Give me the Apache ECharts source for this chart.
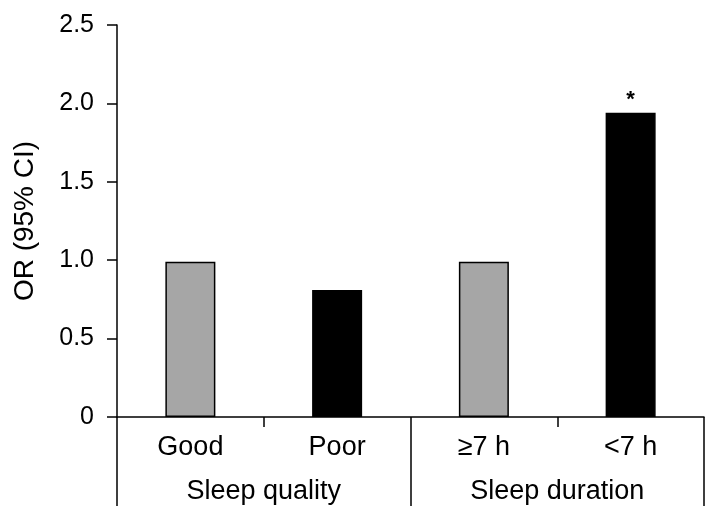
<!DOCTYPE html>
<html>
<head>
<meta charset="utf-8">
<script src="https://cdn.jsdelivr.net/npm/echarts@6/dist/echarts.min.js"></script>
<style>html,body{margin:0;padding:0;background:#fff;}#chart{width:720px;height:523px;}</style>
</head>
<body>
<div id="chart"></div>
<script>
var categories = ['Good', 'Poor', '\u22657 h', '<7 h'];
var groups = ['Sleep quality', 'Sleep duration'];
var values = [0.99, 0.81, 0.99, 1.94];
var significance = ['', '', '', '*'];
var yTicks = [0, 0.5, 1.0, 1.5, 2.0, 2.5];

var barColors = ['#a6a6a6', '#000000', '#a6a6a6', '#000000'];
var FONT = 'Liberation Sans, Arial, sans-serif';

var chart = echarts.init(document.getElementById('chart'));
chart.setOption({
  backgroundColor: '#ffffff',
  animation: false,
  grid: { left: 117, right: 16, top: 25, bottom: 106, containLabel: false, outerBoundsMode: 'none' },
  xAxis: [
    {
      type: 'category',
      data: categories,
      position: 'bottom',
      axisLine: { lineStyle: { color: '#000', width: 1.5 } },
      axisTick: { show: true, length: 10, lineStyle: { color: '#000', width: 1.5 } },
      axisLabel: { color: '#000', fontSize: 27, fontFamily: FONT, margin: 17 },
      splitLine: { show: false }
    },
    {
      type: 'category',
      data: groups,
      position: 'bottom',
      offset: 0,
      axisLine: { show: false },
      axisTick: { show: true, length: 89, lineStyle: { color: '#000', width: 1.5 } },
      axisLabel: { color: '#000', fontSize: 27, fontFamily: FONT, margin: 61 },
      splitLine: { show: false }
    }
  ],
  yAxis: {
    type: 'value',
    min: yTicks[0],
    max: yTicks[yTicks.length - 1],
    interval: 0.5,
    name: 'OR (95% CI)',
    nameLocation: 'middle',
    nameRotate: 90,
    nameGap: 78,
    nameTextStyle: { color: '#000', fontSize: 28, fontFamily: FONT },
    axisLine: { show: true, lineStyle: { color: '#000', width: 1.5 } },
    axisTick: { show: true, length: 10, lineStyle: { color: '#000', width: 1.5 } },
    axisLabel: {
      color: '#000', fontSize: 25, fontFamily: FONT, margin: 23,
      formatter: function (v) { return v === 0 ? '0' : v.toFixed(1); }
    },
    splitLine: { show: false }
  },
  series: [{
    type: 'bar',
    xAxisIndex: 0,
    barWidth: 50,
    data: values.map(function (v, i) {
      return {
        value: v,
        itemStyle: { color: barColors[i], borderColor: '#000', borderWidth: 1.5 },
        label: {
          show: significance[i] !== '',
          position: 'top',
          distance: 2,
          formatter: significance[i],
          color: '#000',
          fontSize: 22,
          fontWeight: 'bold',
          fontFamily: FONT
        }
      };
    })
  }]
});
</script>
</body>
</html>
